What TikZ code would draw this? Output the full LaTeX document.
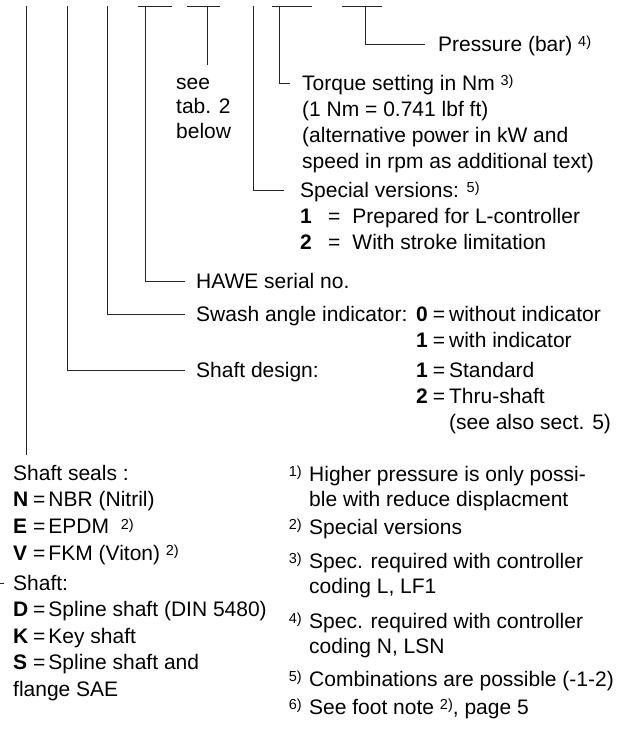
\documentclass[tikz,border=0pt]{standalone}
\usepackage{fontspec}
\setmainfont{Liberation Sans}
\usetikzlibrary{positioning}

\newcommand\supnum[1]{\raisebox{4.5pt}{\fontsize{14.5}{14.5}\selectfont #1)}}
\newcommand\leftlines[1]{\begin{tabular}[t]{@{}l@{}}#1\end{tabular}}

\begin{document}
\begin{tikzpicture}[
  x=1pt, y=-1pt,
  txt/.style={anchor=base west, inner sep=0pt, font=\fontsize{21}{26}\selectfont},
  note/.style={txt, font=\fontsize{21}{25}\selectfont},
  fnmark/.style={anchor=base east, inner sep=0pt, font=\fontsize{21}{25}\selectfont},
  lead/.style={line width=1pt, black!85}
]
\useasboundingbox (0,0) rectangle (620,729);

% upper ends of the leaders
\coordinate (sealtop) at (26,6);
\coordinate (sealend) at (26,455);
\coordinate (shafttop) at (67,6);
\coordinate (swashtop) at (107,6);
\coordinate (serialtop) at (145,6);
\coordinate (serialbarl) at (138,6);
\coordinate (serialbarr) at (172,6);
\coordinate (sizetop) at (207,6);
\coordinate (sizebarl) at (187,6);
\coordinate (sizebarr) at (220,6);
\coordinate (sizeend) at (207,65);
\coordinate (specialtop) at (253,6);
\coordinate (torquetop) at (279,6);
\coordinate (torquebarl) at (272,6);
\coordinate (torquebarr) at (312,6);
\coordinate (presstop) at (365,6);
\coordinate (pressbarl) at (342,6);
\coordinate (pressbarr) at (382,6);
\coordinate (shafttick) at (0,583);

% labels
\node[txt] (press) at (438,51) {Pressure (bar) \supnum{4}};
\node[txt] (torque) at (302,90) {\leftlines{Torque setting in Nm \supnum{3}\\(1 Nm = 0.741 lbf ft)\\(alternative power in kW and\\speed in rpm as additional text)}};
\node[txt, font=\fontsize{21}{24.5}\selectfont] (seetab) at (176,89) {\leftlines{see\\tab. 2\\below}};
\node[txt] (special) at (300,197) {\leftlines{Special versions: \supnum{5}\\\makebox[28pt][l]{\textbf{1}}=\hspace{12pt}Prepared for L-controller\\\makebox[28pt][l]{\textbf{2}}=\hspace{12pt}With stroke limitation}};
\node[txt] (serial) at (196,288) {HAWE serial no.};
\node[txt] (swash) at (196,321) {Swash angle indicator:};
\node[txt] (swashopt) at (416,321) {\leftlines{\textbf{0}\hspace{5pt}=\hspace{4pt}without indicator\\\textbf{1}\hspace{5pt}=\hspace{4pt}with indicator}};
\node[txt] (design) at (196,377) {Shaft design:};
\node[txt] (designopt) at (design.base -| swashopt.base west) {\leftlines{\textbf{1}\hspace{5pt}=\hspace{4pt}Standard\\\textbf{2}\hspace{5pt}=\hspace{4pt}Thru-shaft\\\hphantom{\textbf{2}\hspace{5pt}=\hspace{4pt}}(see also sect. 5)}};

\node[txt, font=\fontsize{21}{26.8}\selectfont] (seals) at (13,480) {\leftlines{Shaft seals :\\\makebox[20pt][l]{\textbf{N}}=\hspace{3pt}NBR (Nitril)\\\makebox[20pt][l]{\textbf{E}}=\hspace{3pt}EPDM \ \supnum{2}\\\makebox[20pt][l]{\textbf{V}}=\hspace{3pt}FKM (Viton) \supnum{2}}};
\node[txt, font=\fontsize{21}{26.5}\selectfont] (shaft) at (13,590) {\leftlines{Shaft:\\\makebox[20pt][l]{\textbf{D}}=\hspace{3pt}Spline shaft (DIN 5480)\\\makebox[20pt][l]{\textbf{K}}=\hspace{3pt}Key shaft\\\makebox[20pt][l]{\textbf{S}}=\hspace{3pt}Spline shaft and\\flange SAE}};

% footnotes
\node[fnmark] (m1) at (302,481) {\supnum{1}};
\node[note] (f1) at (309,481) {\leftlines{Higher pressure is only possi-\\ble with reduce displacment}};
\node[fnmark] (m2) at (302,534) {\supnum{2}};
\node[note] (f2) at (309,534) {Special versions};
\node[fnmark] (m3) at (302,568) {\supnum{3}};
\node[note] (f3) at (309,568) {\leftlines{Spec. required with controller\\coding L, LF1}};
\node[fnmark] (m4) at (302,628) {\supnum{4}};
\node[note] (f4) at (309,628) {\leftlines{Spec. required with controller\\coding N, LSN}};
\node[fnmark] (m5) at (302,686) {\supnum{5}};
\node[note] (f5) at (309,686) {Combinations are possible (-1-2)};
\node[fnmark] (m6) at (302,714) {\supnum{6}};
\node[note] (f6) at (309,714) {See foot note \supnum{2}, page 5};

% leaders
\draw[lead] (pressbarl) -- (pressbarr);
\draw[lead] (torquebarl) -- (torquebarr);
\draw[lead] (sizebarl) -- (sizebarr);
\draw[lead] (serialbarl) -- (serialbarr);
\draw[lead] (presstop) |- ([xshift=-13pt,yshift=7pt]press.base west);
\draw[lead] (torquetop) |- ([xshift=-12pt,yshift=7pt]torque.base west);
\draw[lead] (sizetop) -- (sizeend);
\draw[lead] (specialtop) |- ([xshift=-16pt,yshift=7pt]special.base west);
\draw[lead] (serialtop) |- ([xshift=-11pt,yshift=7pt]serial.base west);
\draw[lead] (swashtop) |- ([xshift=-11pt,yshift=7pt]swash.base west);
\draw[lead] (shafttop) |- ([xshift=-11pt,yshift=7pt]design.base west);
\draw[lead] (sealtop) -- (sealend);
\draw[lead] (shafttick) -- ([xshift=-9pt,yshift=7pt]shaft.base west);

\end{tikzpicture}
\end{document}
